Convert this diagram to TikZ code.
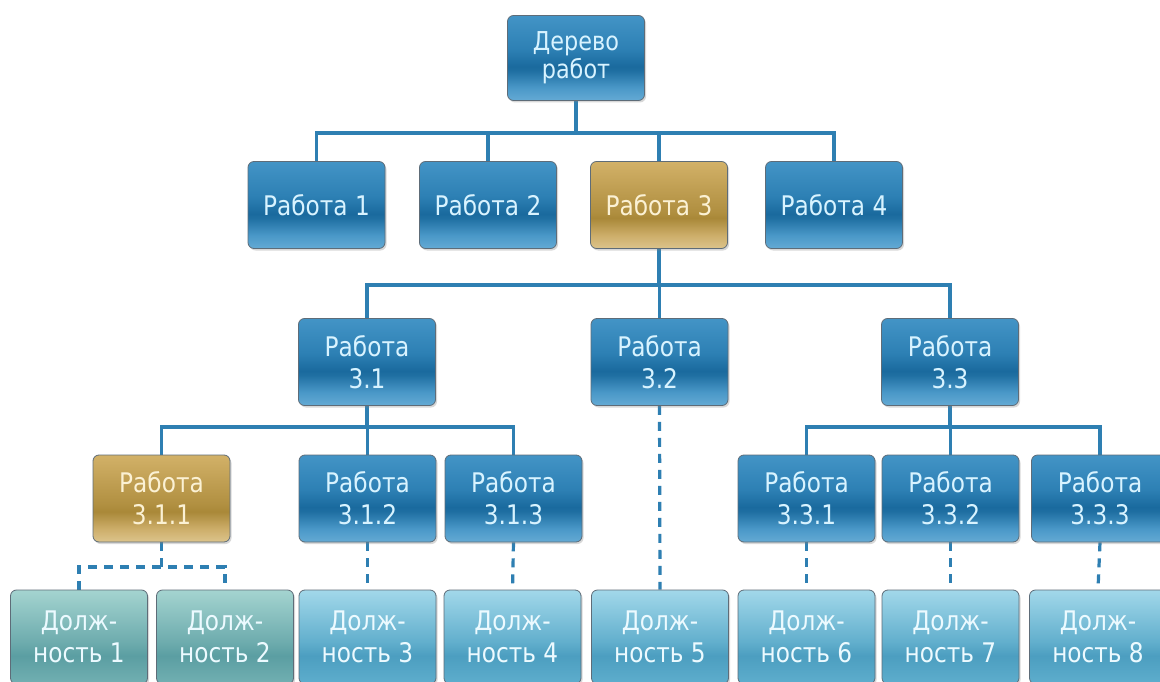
\documentclass[tikz,border=0pt]{standalone}
\usepackage{fontspec}
\setmainfont[FakeStretch=0.86]{DejaVu Sans}
\usetikzlibrary{shadows,backgrounds}

% glass-like fills (the path spans 25bp..75bp of each shading)
\definecolor{gb0}{HTML}{64AAD4}
\definecolor{gb1}{HTML}{4A98C8}
\definecolor{gb2}{HTML}{1F6FA2}
\definecolor{gb3}{HTML}{1A6A9E}
\definecolor{gb4}{HTML}{2D80B4}
\definecolor{gb5}{HTML}{4394C6}
\pgfdeclareverticalshading{glassblue}{100bp}{color(0bp)=(gb0); color(25bp)=(gb0); color(32.5bp)=(gb1); color(42.5bp)=(gb2); color(45bp)=(gb3); color(55bp)=(gb4); color(75bp)=(gb5); color(100bp)=(gb5)}

\definecolor{gg0}{HTML}{DCC48C}
\definecolor{gg1}{HTML}{CDAE6A}
\definecolor{gg2}{HTML}{A98838}
\definecolor{gg3}{HTML}{B08F40}
\definecolor{gg4}{HTML}{D2B168}
\pgfdeclareverticalshading{glassgold}{100bp}{color(0bp)=(gg0); color(25bp)=(gg0); color(32.5bp)=(gg1); color(42.5bp)=(gg2); color(46bp)=(gg3); color(75bp)=(gg4); color(100bp)=(gg4)}

\definecolor{gc0}{HTML}{5EAECD}
\definecolor{gc1}{HTML}{4C9EC0}
\definecolor{gc2}{HTML}{62AFCD}
\definecolor{gc3}{HTML}{A2D8EA}
\pgfdeclareverticalshading{glasscyan}{100bp}{color(0bp)=(gc0); color(25bp)=(gc0); color(40bp)=(gc1); color(47.5bp)=(gc2); color(75bp)=(gc3); color(100bp)=(gc3)}

\definecolor{gt0}{HTML}{72B0B2}
\definecolor{gt1}{HTML}{5B9EA2}
\definecolor{gt2}{HTML}{6EACAE}
\definecolor{gt3}{HTML}{A4D4D0}
\pgfdeclareverticalshading{glassteal}{100bp}{color(0bp)=(gt0); color(25bp)=(gt0); color(40bp)=(gt1); color(47.5bp)=(gt2); color(75bp)=(gt3); color(100bp)=(gt3)}

\definecolor{boxedge}{HTML}{5E6C78}
\definecolor{linkblue}{HTML}{2E7FB2}
\definecolor{bluetext}{HTML}{D8F3FF}
\definecolor{goldtext}{HTML}{FBF1D4}
\definecolor{cyantext}{HTML}{ECFAFF}

\tikzset{
  box/.style={rectangle, rounded corners=6pt, draw=boxedge, line width=0.8pt,
    minimum width=137pt, minimum height=87pt, inner sep=0pt, align=center,
    font=\fontsize{27}{32}\selectfont, shade,
    drop shadow={shadow xshift=1.5pt, shadow yshift=-2pt, opacity=0.3}},
  bluebox/.style={box, shading=glassblue, text=bluetext},
  goldbox/.style={box, shading=glassgold, text=goldtext},
  cyanbox/.style={box, shading=glasscyan, text=cyantext, minimum height=94pt},
  tealbox/.style={box, shading=glassteal, text=cyantext, minimum height=94pt},
  link/.style={draw=linkblue, line width=3.2pt},
  dlink/.style={link, dash pattern=on 9pt off 7pt},
}

\begin{document}
\begin{tikzpicture}[x=1pt, y=-1pt]
\useasboundingbox (0,0) rectangle (1160,682);

% root and first level
\node[bluebox, minimum height=85pt, font=\fontsize{26}{28}\selectfont] (root) at (576,58) {Дерево\\работ};
\node[bluebox] (w1) at (316.5,205) {Работа 1};
\node[bluebox] (w2) at (488,205) {Работа 2};
\node[goldbox] (w3) at (659,205) {Работа 3};
\node[bluebox] (w4) at (834,205) {Работа 4};

% second level
\node[bluebox] (w31) at (367,362) {Работа\\3.1};
\node[bluebox] (w32) at (659.5,362) {Работа\\3.2};
\node[bluebox] (w33) at (950,362) {Работа\\3.3};

% third level
\node[goldbox] (w311) at (161.5,498.5) {Работа\\3.1.1};
\node[bluebox] (w312) at (367.5,498.5) {Работа\\3.1.2};
\node[bluebox] (w313) at (513.5,498.5) {Работа\\3.1.3};
\node[bluebox] (w331) at (806.5,498.5) {Работа\\3.3.1};
\node[bluebox] (w332) at (950.5,498.5) {Работа\\3.3.2};
\node[bluebox] (w333) at (1100,498.5) {Работа\\3.3.3};

% positions
\node[tealbox] (d1) at (79,637) {Долж-\\ность 1};
\node[tealbox] (d2) at (225,637) {Долж-\\ность 2};
\node[cyanbox] (d3) at (367.5,637) {Долж-\\ность 3};
\node[cyanbox] (d4) at (512.5,637) {Долж-\\ность 4};
\node[cyanbox] (d5) at (660,637) {Долж-\\ность 5};
\node[cyanbox] (d6) at (806.5,637) {Долж-\\ность 6};
\node[cyanbox] (d7) at (950.5,637) {Долж-\\ность 7};
\node[cyanbox] (d8) at (1098,637) {Долж-\\ность 8};

% bus levels
\coordinate (bus1) at (0,133);
\coordinate (bus2) at (0,285);
\coordinate (bus3) at (0,427);
\coordinate (bus4) at (0,567);

\begin{pgfonlayer}{background}
  \fill[white] (0,0) rectangle (1160,682);
  \foreach \c in {w1,w2,w3,w4}
    \draw[link] (root.south) -- (root.south |- bus1) -| (\c.north);
  \foreach \c in {w31,w32,w33}
    \draw[link] (w3.south) -- (w3.south |- bus2) -| (\c.north);
  \foreach \c in {w311,w312,w313}
    \draw[link] (w31.south) -- (w31.south |- bus3) -| (\c.north);
  \foreach \c in {w331,w332,w333}
    \draw[link] (w33.south) -- (w33.south |- bus3) -| (\c.north);

  \draw[dlink] (w311.south) -- (w311.south |- bus4);
  \draw[dlink] (d1.north) |- (d2.north |- bus4) -- (d2.north);
  \draw[dlink] (w312.south) -- (d3.north);
  \draw[dlink] (w313.south) -- (d4.north);
  \draw[dlink] (w32.south) -- (d5.north);
  \draw[dlink] (w331.south) -- (d6.north);
  \draw[dlink] (w332.south) -- (d7.north);
  \draw[dlink] (w333.south) -- (d8.north);
\end{pgfonlayer}
\end{tikzpicture}
\end{document}
